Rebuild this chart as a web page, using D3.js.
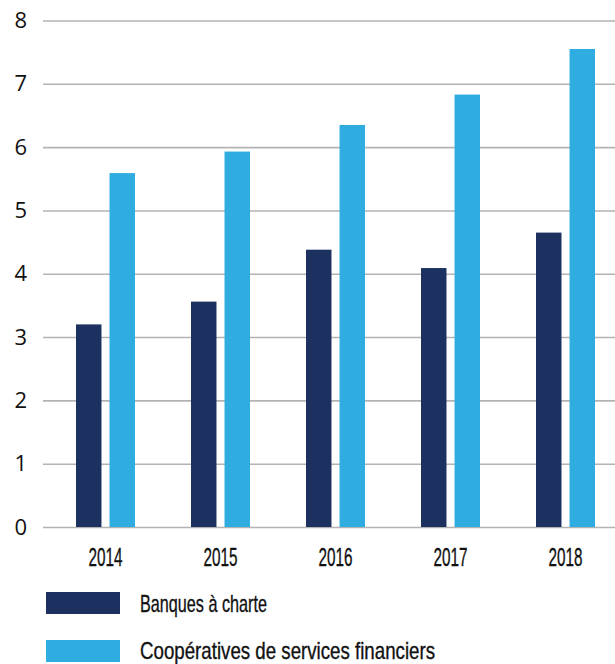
<!DOCTYPE html>
<html>
<head>
<meta charset="utf-8">
<script src="https://cdn.jsdelivr.net/npm/d3@7"></script>
<style>
  html, body { margin: 0; padding: 0; background: #ffffff; }
  svg { display: block; }
</style>
</head>
<body>
<svg id="chart" width="615" height="664"></svg>
<script>
// ---- data ----
const years = ["2014", "2015", "2016", "2017", "2018"];
const seriesNames = ["Banques à charte", "Coopératives de services financiers"];
const banques = [3.2, 3.56, 4.38, 4.09, 4.65];
const cooperatives = [5.59, 5.93, 6.35, 6.83, 7.55];
const yTicks = [0, 1, 2, 3, 4, 5, 6, 7, 8];

const colors = ["#1c315f", "#30ade0"];
const seriesValues = [banques, cooperatives];

const svg = d3.select("#chart");
const condFont = "'Liberation Sans Narrow', 'Arial Narrow', 'Liberation Sans', sans-serif";
const textColor = "#111111";

const y = d3.scaleLinear().domain([0, 8]).range([527, 20.5]);
const x0 = d3.scaleBand().domain(years).range([48, 623]).paddingInner(0.487).paddingOuter(0.2435);
const x1 = d3.scaleBand().domain(seriesNames).range([0, x0.bandwidth()]).paddingInner(0.24);

// gridlines + y labels
const yAxis = d3.axisLeft(y).tickValues(yTicks).tickSize(-(615 - 43)).tickFormat(d3.format("d")).tickPadding(16);
const gy = svg.append("g").attr("transform", "translate(43,0)").call(yAxis);
gy.select(".domain").remove();
gy.selectAll(".tick line").attr("stroke", "#b3b3b3").attr("stroke-width", 1.6);
gy.selectAll(".tick text")
  .attr("fill", textColor)
  .style("font-family", "'Open Sans', 'Noto Sans', sans-serif")
  .style("font-size", "22px");

// bars
const groups = svg.append("g").selectAll("g")
  .data(years.map((yr, i) => ({ yr, i })))
  .join("g")
  .attr("transform", d => `translate(${x0(d.yr)},0)`);

groups.selectAll("rect")
  .data(d => seriesNames.map((s, k) => ({ s, k, v: seriesValues[k][d.i] })))
  .join("rect")
  .attr("x", d => x1(d.s))
  .attr("width", x1.bandwidth())
  .attr("y", d => y(d.v))
  .attr("height", d => y(0) - y(d.v))
  .attr("fill", d => colors[d.k]);

// x labels (condensed look)
svg.append("g").selectAll("text")
  .data(years)
  .join("text")
  .attr("x", d => x0(d) + x0.bandwidth() / 2 - 17)
  .attr("y", 566)
  .attr("textLength", 34)
  .attr("lengthAdjust", "spacingAndGlyphs")
  .attr("fill", textColor)
  .attr("stroke", textColor)
  .attr("stroke-width", 0.35)
  .style("font-family", condFont)
  .style("font-size", "26px")
  .text(d => d);

// legend
const legend = svg.append("g");
const legendRects = [592, 640];
const legendBaselines = [612, 659];
const legendTextWidths = [127, 295];
legend.selectAll("rect")
  .data(seriesNames)
  .join("rect")
  .attr("x", 46)
  .attr("width", 74)
  .attr("y", (d, i) => legendRects[i])
  .attr("height", 22)
  .attr("fill", (d, i) => colors[i]);

legend.selectAll("text")
  .data(seriesNames)
  .join("text")
  .attr("x", 140)
  .attr("y", (d, i) => legendBaselines[i])
  .attr("textLength", (d, i) => legendTextWidths[i])
  .attr("lengthAdjust", "spacingAndGlyphs")
  .attr("fill", textColor)
  .attr("stroke", textColor)
  .attr("stroke-width", 0.35)
  .style("font-family", condFont)
  .style("font-size", "24px")
  .text(d => d);
</script>
</body>
</html>
